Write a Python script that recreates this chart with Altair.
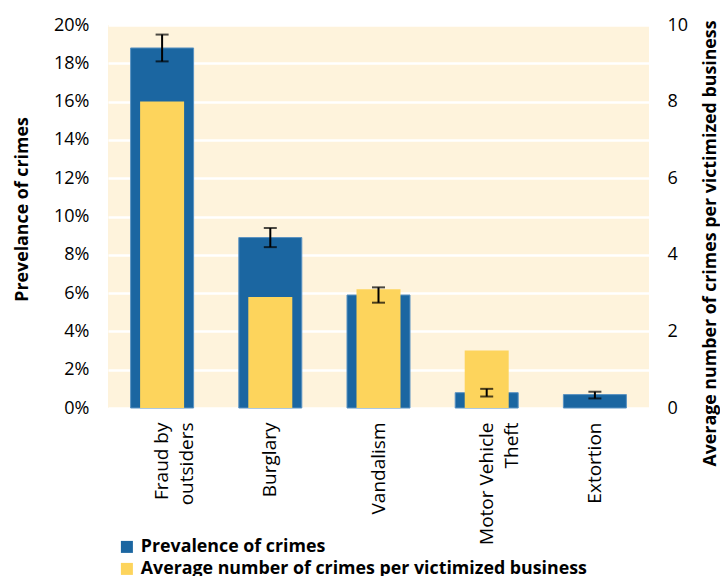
import json
import altair as alt
import pandas as pd

categories = ["Fraud by outsiders", "Burglary", "Vandalism", "Motor Vehicle Theft", "Extortion"]
label_lines = [["Fraud by", "outsiders"], ["Burglary"], ["Vandalism"],
               ["Motor Vehicle", "Theft" + "\u00a0" * 8], ["Extortion"]]
prevalence = [18.8, 8.9, 5.9, 0.8, 0.7]
prev_low = [18.1, 8.4, 5.5, 0.6, 0.5]
prev_high = [19.5, 9.4, 6.3, 1.0, 0.85]
avg_crimes = [8.0, 2.9, 3.1, 1.5, 0.0]
series = ["Prevalence of crimes", "Average number of crimes per victimized business"]
colors = ["#1B66A1", "#FDD45C"]
left_ticks = [0, 2, 4, 6, 8, 10, 12, 14, 16, 18, 20]
right_ticks = [0, 2, 4, 6, 8, 10]

FONT = "Open Sans"

prev_df = pd.DataFrame({"category": categories, "value": prevalence,
                        "lo": prev_low, "hi": prev_high, "series": series[0]})
avg_df = pd.DataFrame({"category": categories, "value": avg_crimes, "series": series[1]})

label_map = json.dumps(dict(zip(categories, label_lines)))

x_enc = alt.X(
    "category:N", sort=categories,
    axis=alt.Axis(title=None, labelAngle=270, labelExpr=f"{label_map}[datum.value]",
                  labelFontSize=19, labelFont=FONT, labelColor="black", labelPadding=14,
                  labelLineHeight=25, ticks=False, domain=False),
)

color_enc = alt.Color(
    "series:N",
    scale=alt.Scale(domain=series, range=colors),
    legend=alt.Legend(title=None, orient="none", legendX=10, legendY=513, direction="vertical",
                      symbolType="square", symbolSize=144, symbolStrokeWidth=0,
                      labelFont=FONT, labelFontSize=17.8, labelFontWeight="bold",
                      labelColor="black", rowPadding=3, padding=0, labelOffset=5,
                      labelLimit=0),
)

blue = alt.Chart(prev_df).mark_bar(size=63, stroke="#5A92C2", strokeWidth=1).encode(
    x=x_enc,
    y=alt.Y("value:Q", scale=alt.Scale(domain=[0, 20]),
            axis=alt.Axis(orient="left", values=left_ticks, labelExpr="datum.value + '%'",
                          title="Prevelance of crimes", titleFont=FONT, titleFontSize=17.8,
                          titleFontWeight="bold", titleColor="black",
                          titleX=-86, titleY=184, titleAngle=270,
                          titleBaseline="middle", titleAlign="center",
                          labelFont=FONT, labelFontSize=18, labelColor="black",
                          labelPadding=19, ticks=False, domain=False,
                          grid=True, gridColor="white", gridWidth=2.5)),
    color=color_enc,
)

yellow = alt.Chart(avg_df).mark_bar(size=44).encode(
    x=x_enc,
    y=alt.Y("value:Q", scale=alt.Scale(domain=[0, 10]),
            axis=alt.Axis(orient="right", values=right_ticks,
                          title="Average number of crimes per victimized business",
                          titleFont=FONT, titleFontSize=17.8, titleFontWeight="bold",
                          titleColor="black", titleAngle=270,
                          titleX=61, titleY=218,
                          titleBaseline="middle", titleAlign="center",
                          labelFont=FONT, labelFontSize=18, labelColor="black",
                          labelPadding=18, ticks=False, domain=False, grid=False)),
    color=color_enc,
)

errs = alt.Chart(prev_df).mark_errorbar(
    ticks={"size": 13, "thickness": 2, "color": "black"},
    rule={"strokeWidth": 2, "color": "black"},
).encode(
    x=x_enc,
    y=alt.Y("lo:Q", scale=alt.Scale(domain=[0, 20]), axis=None, title=None),
    y2="hi:Q",
)

chart = alt.layer(blue, yellow, errs).resolve_scale(y="independent").properties(
    width=541, height=383,
    autosize=alt.AutoSizeParams(type="none"),
    padding={"left": 100, "top": 17, "right": 71, "bottom": 168},
).configure_view(fill="#FEF3DC", strokeWidth=0)

chart.save("out.html", embed_options={"renderer": "svg", "actions": False})
